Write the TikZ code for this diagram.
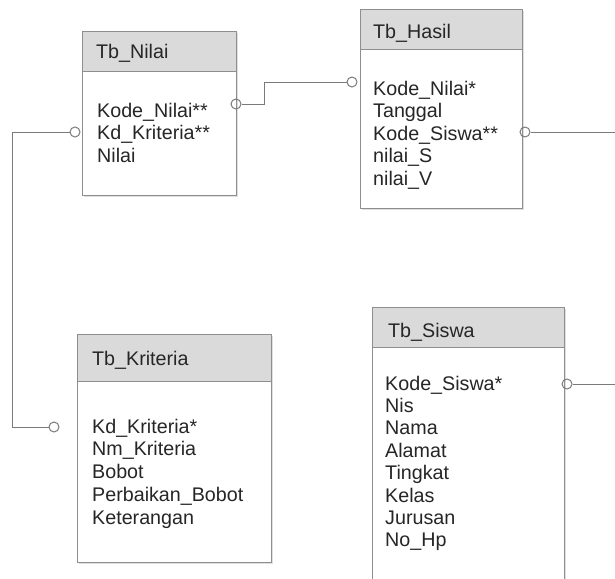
\documentclass[tikz,border=0pt]{standalone}
\usepackage{fontspec}
\setmainfont{Liberation Sans}
\usetikzlibrary{shadows}
\definecolor{bordergray}{HTML}{8E8E8E}
\definecolor{linegray}{HTML}{7A7A7A}
\definecolor{headgray}{HTML}{DADADA}
\definecolor{txt}{HTML}{262626}
\tikzset{
  tbl/.style={draw=bordergray, line width=1.3pt, fill=white, inner sep=0pt, anchor=north west,
    drop shadow={shadow xshift=1.2pt, shadow yshift=-1.2pt, opacity=0.25}},
  head/.style={draw=bordergray, line width=1.3pt, fill=headgray, inner sep=0pt, anchor=north west},
  lbl/.style={anchor=base west, inner sep=0pt, text=txt, font=\fontsize{19.7}{22.7}\selectfont},
  conn/.style={draw=linegray, line width=1pt},
  knob/.style={circle, draw=linegray, line width=1pt, fill=none, minimum size=10pt, inner sep=0pt},
}
\begin{document}
\begin{tikzpicture}[x=1pt,y=-1pt]
\useasboundingbox (0,0) rectangle (615,578);
\clip (0,0) rectangle (615,578);

% Tb_Nilai
\node[tbl, minimum width=154pt, minimum height=164pt] (nilai) at (82,31) {};
\node[head, minimum width=154pt, minimum height=40pt] (nilaih) at (82,31) {};
\node[lbl] (nilait) at (96,59) {Tb\_Nilai};
\foreach \t [count=\i] in {Kode\_Nilai**, Kd\_Kriteria**, Nilai}
  \node[lbl] (nilair\i) at (97,{117+22.9*(\i-1)}) {\t};

% Tb_Hasil
\node[tbl, minimum width=162pt, minimum height=199pt] (hasil) at (360,9) {};
\node[head, minimum width=162pt, minimum height=40pt] (hasilh) at (360,9) {};
\node[lbl] (hasilt) at (373,39) {Tb\_Hasil};
\foreach \t [count=\i] in {Kode\_Nilai*, Tanggal, Kode\_Siswa**, nilai\_S, nilai\_V}
  \node[lbl] (hasilr\i) at (373,{95+22.6*(\i-1)}) {\t};

% Tb_Kriteria
\node[tbl, minimum width=194pt, minimum height=228pt] (krit) at (77,334) {};
\node[head, minimum width=194pt, minimum height=47pt] (krith) at (77,334) {};
\node[lbl] (kritt) at (92,365) {Tb\_Kriteria};
\foreach \t [count=\i] in {Kd\_Kriteria*, Nm\_Kriteria, Bobot, Perbaikan\_Bobot, Keterangan}
  \node[lbl] (kritr\i) at (92,{433+22.8*(\i-1)}) {\t};

% Tb_Siswa
\node[tbl, minimum width=192pt, minimum height=300pt] (siswa) at (372,307) {};
\node[head, minimum width=192pt, minimum height=40pt] (siswah) at (372,307) {};
\node[lbl] (siswat) at (388,337) {Tb\_Siswa};
\foreach \t [count=\i] in {Kode\_Siswa*, Nis, Nama, Alamat, Tingkat, Kelas, Jurusan, No\_Hp}
  \node[lbl] (siswar\i) at (385,{390+22.4*(\i-1)}) {\t};

% knobs
\node[knob] (k1) at (75,132) {};
\node[knob] (k2) at (236,104) {};
\node[knob] (k3) at (352,82) {};
\node[knob] (k4) at (525,132) {};
\node[knob] (k5) at (54,427) {};
\node[knob] (k6) at (567,384) {};

% free ends
\coordinate (v1) at (12,132);
\coordinate (v2) at (12,427);
\coordinate (b1) at (264,104);
\coordinate (e1) at (615,132);
\coordinate (e2) at (615,384);

% connectors
\draw[conn] (k1.west) -- (v1) -- (v2) -- (k5.west);
\draw[conn] (k2.east) -- (b1) |- (k3.west);
\draw[conn] (k4.east) -- (e1);
\draw[conn] (k6.east) -- (e2);
\end{tikzpicture}
\end{document}
